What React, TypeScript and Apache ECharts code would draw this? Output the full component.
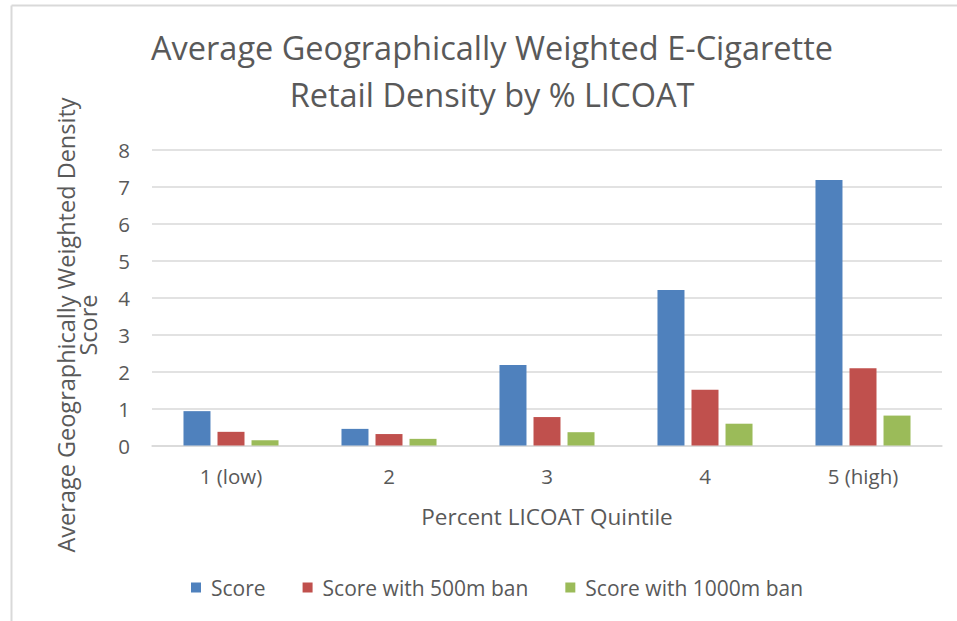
import React, { useEffect, useRef } from "react";
import * as echarts from "echarts";

const categories = ["1 (low)", "2", "3", "4", "5 (high)"];
const scoreValues = [0.93, 0.45, 2.18, 4.21, 7.19];
const score500Values = [0.37, 0.31, 0.77, 1.51, 2.09];
const score1000Values = [0.14, 0.18, 0.36, 0.59, 0.81];
const seriesNames = ["Score", "Score with 500m ban", "Score with 1000m ban"];
const colors = ["#4F81BD", "#C0504D", "#9BBB59"];

const FONT = "'Open Sans', sans-serif";
const TXT = "#595959";

export default function App() {
  const ref = useRef<HTMLDivElement>(null);
  useEffect(() => {
    if (!ref.current) return;
    const chart = echarts.init(ref.current, null, { renderer: "svg" });
    const data = [scoreValues, score500Values, score1000Values];
    chart.setOption({
      animation: false,
      backgroundColor: "#ffffff",
      textStyle: { fontFamily: FONT, color: TXT },
      title: {
        text: "Average Geographically Weighted E-Cigarette\nRetail Density by % LICOAT",
        left: 487,
        top: 19,
        textAlign: "center",
        textStyle: {
          fontFamily: FONT,
          fontSize: 32.5,
          fontWeight: "normal",
          color: TXT,
          lineHeight: 47,
        },
      },
      legend: {
        left: 186,
        top: 572,
        icon: "rect",
        itemWidth: 10,
        itemHeight: 10,
        itemGap: 37,
        textStyle: { fontFamily: FONT, fontSize: 21, color: TXT, padding: [0, 0, 0, 5] },
        data: seriesNames,
      },
      grid: { left: 152, right: 15, top: 150, bottom: 175.5 },
      xAxis: {
        type: "category",
        data: categories,
        name: "Percent LICOAT Quintile",
        nameLocation: "middle",
        nameGap: 59,
        nameTextStyle: { fontFamily: FONT, fontSize: 22.5, color: TXT },
        axisLine: { lineStyle: { color: "#d9d9d9", width: 1.5 } },
        axisTick: { show: false },
        axisLabel: { fontFamily: FONT, fontSize: 20.5, color: TXT, margin: 20 },
      },
      yAxis: {
        type: "value",
        min: 0,
        max: 8,
        interval: 1,
        axisLine: { show: false },
        axisTick: { show: false },
        splitLine: { lineStyle: { color: "#d9d9d9", width: 1.5 } },
        axisLabel: { fontFamily: FONT, fontSize: 20.5, color: TXT, margin: 22 },
      },
      series: seriesNames.map((n, i) => ({
        name: n,
        type: "bar",
        data: data[i],
        barWidth: 27,
        barGap: "26%",
        itemStyle: { color: colors[i] },
      })),
      graphic: [
        {
          type: "line",
          shape: { x1: 11.5, y1: 5.5, x2: 11.5, y2: 621 },
          style: { stroke: "#d9d9d9", lineWidth: 2 },
        },
        {
          type: "line",
          shape: { x1: 11.5, y1: 5.5, x2: 957, y2: 5.5 },
          style: { stroke: "#d9d9d9", lineWidth: 2 },
        },
        {
          type: "text",
          x: 77,
          y: 325,
          rotation: Math.PI / 2,
          style: {
            text: "Average Geographically Weighted Density\nScore",
            align: "center",
            verticalAlign: "middle",
            fontFamily: FONT,
            fontSize: 23.5,
            lineHeight: 22,
            fill: TXT,
          },
        },
      ],
    });
    return () => chart.dispose();
  }, []);
  return (
    <div
      ref={ref}
      style={{ position: "fixed", left: 0, top: 0, width: 957, height: 621 }}
    />
  );
}
